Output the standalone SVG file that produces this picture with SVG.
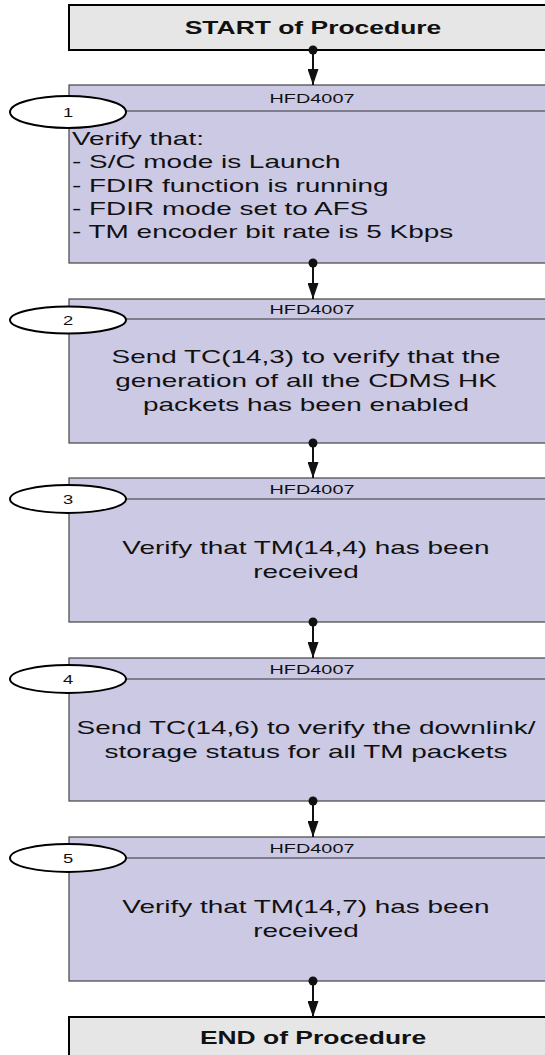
<svg xmlns="http://www.w3.org/2000/svg" width="545" height="1055" viewBox="0 0 545 1055">
<defs>
<style>
.term{fill:#e6e6e6;stroke:#000;stroke-width:2}
.step{fill:#ccc9e4;stroke:#444;stroke-width:1.2}
.hdr{stroke:#333;stroke-width:1.2}
.num{fill:#fff;stroke:#000;stroke-width:2}
text{font-family:"Liberation Sans",Arial,sans-serif;fill:#111}
.tt{font-size:18px;font-weight:bold;text-anchor:middle}
.hf{font-size:13.5px;text-anchor:middle}
.bd{font-size:19px;text-anchor:middle}
.bl{font-size:19px}
.nm{font-size:12.5px;text-anchor:middle}
.ln{stroke:#111;stroke-width:2;fill:none}
</style>
<marker id="ah" markerWidth="16" markerHeight="11" refX="16" refY="5.5" orient="auto" markerUnits="userSpaceOnUse">
<path d="M0,0 L16,5.5 L0,11 Z" fill="#111"/>
</marker>
</defs>
<rect width="545" height="1055" fill="#fff"/>

<g id="start">
<rect class="term" x="69" y="5" width="500" height="45"/>
<text class="tt" transform="translate(313,34) scale(1.47,1)">START of Procedure</text>
</g>

<g id="step1">
<rect class="step" x="69" y="85" width="500" height="178"/>
<line class="hdr" x1="69" y1="111" x2="569" y2="111"/>
<text class="hf" transform="translate(312,103) scale(1.47,1)">HFD4007</text>
<ellipse class="num" cx="68" cy="112" rx="58" ry="16"/>
<text class="nm" transform="translate(68,117) scale(1.47,1)">1</text>
<text class="bl" transform="translate(72,145) scale(1.47,1)">Verify that:</text>
<text class="bl" transform="translate(72,168) scale(1.47,1)">- S/C mode is Launch</text>
<text class="bl" transform="translate(72,192) scale(1.47,1)">- FDIR function is running</text>
<text class="bl" transform="translate(72,215) scale(1.47,1)">- FDIR mode set to AFS</text>
<text class="bl" transform="translate(72,238) scale(1.47,1)">- TM encoder bit rate is 5 Kbps</text>
</g>

<g id="step2">
<rect class="step" x="69" y="299" width="500" height="144"/>
<line class="hdr" x1="69" y1="319" x2="569" y2="319"/>
<text class="hf" transform="translate(312,314) scale(1.47,1)">HFD4007</text>
<ellipse class="num" cx="68" cy="320" rx="58" ry="13.5"/>
<text class="nm" transform="translate(68,325) scale(1.47,1)">2</text>
<text class="bd" transform="translate(306,363) scale(1.47,1)">Send TC(14,3) to verify that the</text>
<text class="bd" transform="translate(306,387) scale(1.47,1)">generation of all the CDMS HK</text>
<text class="bd" transform="translate(306,411) scale(1.47,1)">packets has been enabled</text>
</g>

<g id="step3">
<rect class="step" x="69" y="478" width="500" height="144"/>
<line class="hdr" x1="69" y1="499" x2="569" y2="499"/>
<text class="hf" transform="translate(312,494) scale(1.47,1)">HFD4007</text>
<ellipse class="num" cx="68" cy="499" rx="58" ry="14"/>
<text class="nm" transform="translate(68,504) scale(1.47,1)">3</text>
<text class="bd" transform="translate(306,554) scale(1.47,1)">Verify that TM(14,4) has been</text>
<text class="bd" transform="translate(306,578) scale(1.47,1)">received</text>
</g>

<g id="step4">
<rect class="step" x="69" y="658" width="500" height="143"/>
<line class="hdr" x1="69" y1="679" x2="569" y2="679"/>
<text class="hf" transform="translate(312,674) scale(1.47,1)">HFD4007</text>
<ellipse class="num" cx="68" cy="679" rx="58" ry="14"/>
<text class="nm" transform="translate(68,684) scale(1.47,1)">4</text>
<text class="bd" transform="translate(306,734) scale(1.47,1)">Send TC(14,6) to verify the downlink/</text>
<text class="bd" transform="translate(306,758) scale(1.47,1)">storage status for all TM packets</text>
</g>

<g id="step5">
<rect class="step" x="69" y="837" width="500" height="144"/>
<line class="hdr" x1="69" y1="858" x2="569" y2="858"/>
<text class="hf" transform="translate(312,853) scale(1.47,1)">HFD4007</text>
<ellipse class="num" cx="68" cy="858" rx="58" ry="14"/>
<text class="nm" transform="translate(68,863) scale(1.47,1)">5</text>
<text class="bd" transform="translate(306,913) scale(1.47,1)">Verify that TM(14,7) has been</text>
<text class="bd" transform="translate(306,937) scale(1.47,1)">received</text>
</g>

<g id="end">
<rect class="term" x="69" y="1017" width="500" height="50"/>
<text class="tt" transform="translate(313,1044) scale(1.47,1)">END of Procedure</text>
</g>

<g id="connectors">
<circle cx="313" cy="50" r="4.5" fill="#111"/>
<path class="ln" d="M313,50 V85" marker-end="url(#ah)"/>
<circle cx="313" cy="263" r="4.5" fill="#111"/>
<path class="ln" d="M313,263 V299" marker-end="url(#ah)"/>
<circle cx="313" cy="443" r="4.5" fill="#111"/>
<path class="ln" d="M313,443 V478" marker-end="url(#ah)"/>
<circle cx="313" cy="622" r="4.5" fill="#111"/>
<path class="ln" d="M313,622 V658" marker-end="url(#ah)"/>
<circle cx="313" cy="801" r="4.5" fill="#111"/>
<path class="ln" d="M313,801 V837" marker-end="url(#ah)"/>
<circle cx="313" cy="981" r="4.5" fill="#111"/>
<path class="ln" d="M313,981 V1017" marker-end="url(#ah)"/>
</g>
</svg>
